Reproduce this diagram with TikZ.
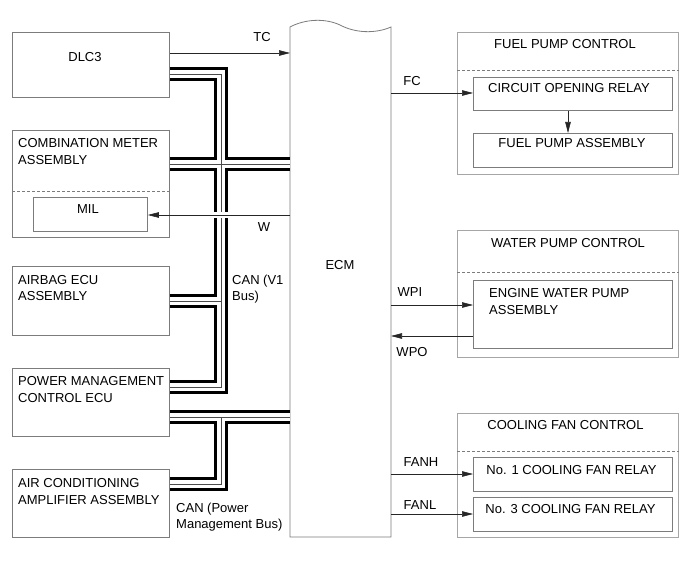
\documentclass[tikz,border=0pt]{standalone}
\usepackage{fontspec}
\setmainfont{Liberation Sans}
\usetikzlibrary{arrows.meta}
\definecolor{boxgray}{HTML}{7C7C7C}
\definecolor{ctrlgray}{HTML}{A6A6A6}
\begin{document}
\begin{tikzpicture}[x=1pt,y=-1pt,
  every node/.append style={font=\fontsize{13}{16.5}\selectfont},
  box/.style={draw=boxgray, line width=0.8pt, inner sep=0pt, anchor=north west},
  ctrlbox/.style={draw=ctrlgray, line width=1.1pt, inner sep=0pt, anchor=north west},
  txt/.style={inner sep=0pt, align=left, text=black},
  divline/.style={draw=boxgray, line width=0.6pt, dash pattern=on 3pt off 2pt},
  arr/.style={draw=black!85, line width=0.6pt, -{Triangle[length=11pt,width=5.5pt]}},
  ecmline/.style={draw=boxgray, line width=0.8pt}
]
\useasboundingbox (0,0) rectangle (691,564);
\fill[white] (0,0) rectangle (691,564);

% ---- left boxes
\node[box, minimum width=157pt, minimum height=65pt]  (dlc)    at (12,32)  {};
\node[box, minimum width=157pt, minimum height=107pt] (comb)   at (12,130) {};
\node[box, minimum width=114pt, minimum height=34pt]  (mil)    at (33,197) {};
\node[box, minimum width=157pt, minimum height=69pt]  (airbag) at (12,266) {};
\node[box, minimum width=157pt, minimum height=68pt]  (pm)     at (12,368) {};
\node[box, minimum width=157pt, minimum height=68pt]  (ac)     at (12,469) {};
\draw[divline] (comb.west |- 0,191) -- (comb.east |- 0,191);

% ---- ECM
\node[inner sep=0pt, outer sep=0pt, anchor=north west, minimum width=101pt, minimum height=510pt] (ecm) at (290,27) {};
\draw[ecmline] (ecm.south west) -- (ecm.north west)
   .. controls (305,19) and (325,18) .. (340,25)
   .. controls (355,33) and (375,34) .. (ecm.north east)
   -- (ecm.south east) -- cycle;

% ---- right boxes
\node[ctrlbox, minimum width=221pt, minimum height=142pt] (fpc) at (457,32)  {};
\node[box, minimum width=199pt, minimum height=33pt]      (cor) at (473,77)  {};
\node[box, minimum width=199pt, minimum height=34pt]      (fpa) at (473,133) {};
\node[ctrlbox, minimum width=221pt, minimum height=127pt] (wpc) at (457,230) {};
\node[box, minimum width=199pt, minimum height=68pt]      (ewp) at (473,280) {};
\node[ctrlbox, minimum width=221pt, minimum height=124pt] (cfc) at (457,413) {};
\node[box, minimum width=199pt, minimum height=34pt]      (r1)  at (473,457) {};
\node[box, minimum width=199pt, minimum height=34pt]      (r3)  at (473,497) {};
\draw[divline] (fpc.west |- 0,70)  -- (fpc.east |- 0,70);
\draw[divline] (wpc.west |- 0,272) -- (wpc.east |- 0,272);
\draw[divline] (cfc.west |- 0,451) -- (cfc.east |- 0,451);

% ---- CAN buses
\foreach \w/\c in {14pt/black, 8.5pt/white, 0.7pt/black!70} {
  \draw[line width=\w, draw=\c, line join=miter]
    (dlc.east |- 0,74) -- (221,74) -- (221,387) -- (pm.east |- 0,387)
    (comb.east |- 0,164) -- (ecm.west |- 0,164)
    (airbag.east |- 0,301) -- (221,301)
    (pm.east |- 0,417) -- (ecm.west |- 0,417)
    (221,417) -- (221,484) -- (ac.east |- 0,484);
}
\draw[white, line width=6pt] (207,215) -- (232,215);

% ---- connectors
\draw[arr] (dlc.east |- 0,53) -- (ecm.west |- 0,53);
\draw[arr] (ecm.west |- 0,215) -- (mil.east |- 0,215);
\draw[arr] (ecm.east |- 0,93) -- (cor.west |- 0,93);
\draw[arr] (cor.south -| 568,0) -- (fpa.north -| 568,0);
\draw[arr] (ecm.east |- 0,305) -- (ewp.west |- 0,305);
\draw[arr] (ewp.west |- 0,336) -- (ecm.east |- 0,336);
\draw[arr] (ecm.east |- 0,474) -- (r1.west |- 0,474);
\draw[arr] (ecm.east |- 0,514) -- (r3.west |- 0,514);

% ---- texts
\node[txt] (tdlc) at (85,57) {DLC3};
\node[txt, anchor=north west] (tcomb) at (18,138.5) {COMBINATION METER\\ASSEMBLY};
\node[txt] (tmil) at (88,209) {MIL};
\node[txt, anchor=north west] (tair) at (18,275) {AIRBAG ECU\\ASSEMBLY};
\node[txt, anchor=north west] (tpm) at (18,376.5) {POWER MANAGEMENT\\CONTROL ECU};
\node[txt, anchor=north west] (tac) at (18,478.5) {AIR CONDITIONING\\AMPLIFIER ASSEMBLY};
\node[txt] (tecm) at (340,265) {ECM};
\node[txt] (ttc) at (262,37) {TC};
\node[txt] (tw) at (264,227) {W};
\node[txt, anchor=north west] (tcan1) at (232,274.5) {CAN (V1\\Bus)};
\node[txt, anchor=north west] (tcan2) at (176,502.5) {CAN (Power\\Management Bus)};
\node[txt] (tfc) at (412,81) {FC};
\node[txt] (twpi) at (410,292) {WPI};
\node[txt] (twpo) at (412,352) {WPO};
\node[txt] (tfanh) at (421,462) {FANH};
\node[txt] (tfanl) at (420,505) {FANL};
\node[txt] (tfpc) at (565,44) {FUEL PUMP CONTROL};
\node[txt] (tcor) at (569,88) {CIRCUIT OPENING RELAY};
\node[txt] (tfpa) at (572,143) {FUEL PUMP ASSEMBLY};
\node[txt] (twpc) at (568,243) {WATER PUMP CONTROL};
\node[txt, anchor=north west] (tewp) at (489,288.5) {ENGINE WATER PUMP\\ASSEMBLY};
\node[txt] (tcfc) at (565.5,425) {COOLING FAN CONTROL};
\node[txt] (tr1) at (571.5,470) {No. 1 COOLING FAN RELAY};
\node[txt] (tr3) at (570.5,509) {No. 3 COOLING FAN RELAY};
\end{tikzpicture}
\end{document}
